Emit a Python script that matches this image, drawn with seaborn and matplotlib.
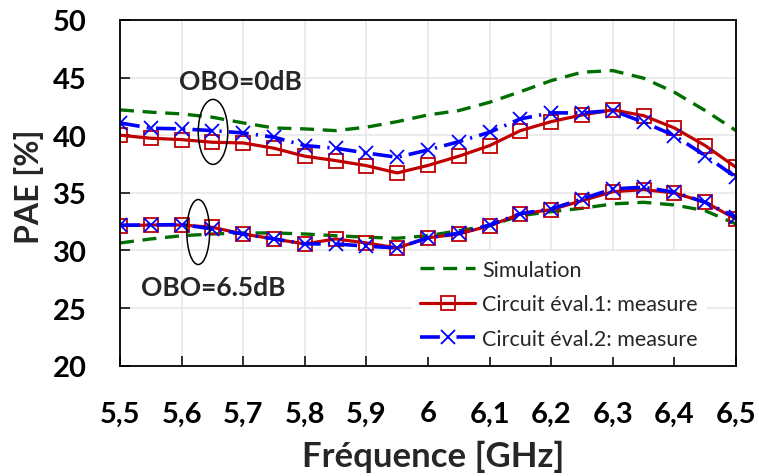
import matplotlib
matplotlib.use('Agg')
import matplotlib.pyplot as plt
import seaborn as sns
from matplotlib.patches import Ellipse
from matplotlib.lines import Line2D

# ---------------- data ----------------
freq = [5.50, 5.55, 5.60, 5.65, 5.70, 5.75, 5.80, 5.85, 5.90, 5.95, 6.00,
        6.05, 6.10, 6.15, 6.20, 6.25, 6.30, 6.35, 6.40, 6.45, 6.50]

# OBO = 0 dB
sim_obo0 = [42.2, 42.0, 41.85, 41.56, 41.07, 40.63, 40.55, 40.4, 40.7, 41.18, 41.76,
            42.14, 42.86, 43.78, 44.74, 45.47, 45.61, 44.95, 43.73, 42.14, 40.40]
meas1_obo0 = [40.0, 39.74, 39.62, 39.39, 39.33, 38.87, 38.18, 37.80, 37.36, 36.73, 37.38,
              38.18, 39.10, 40.40, 41.18, 41.76, 42.20, 41.70, 40.63, 39.10, 37.22]
meas2_obo0 = [41.07, 40.61, 40.55, 40.40, 40.20, 39.83, 39.10, 38.87, 38.46, 38.09, 38.72,
              39.44, 40.26, 41.42, 41.94, 41.94, 42.14, 41.13, 39.97, 38.23, 36.35]

# OBO = 6.5 dB
sim_obo65 = [30.65, 31.0, 31.28, 31.43, 31.52, 31.52, 31.43, 31.28, 31.15, 31.06, 31.28,
             31.72, 32.15, 33.02, 33.37, 33.66, 34.04, 34.18, 33.95, 33.45, 32.30]
meas1_obo65 = [32.15, 32.21, 32.21, 32.01, 31.43, 31.0, 30.57, 31.0, 30.65, 30.22, 31.1,
               31.43, 32.15, 33.17, 33.54, 34.32, 35.10, 35.28, 34.99, 34.18, 32.73]
meas2_obo65 = [32.2, 32.21, 32.25, 31.87, 31.43, 31.0, 30.57, 30.57, 30.37, 30.22, 31.1,
               31.5, 32.2, 33.2, 33.6, 34.47, 35.34, 35.49, 35.05, 34.18, 32.88]

x_ticks = [5.5, 5.6, 5.7, 5.8, 5.9, 6.0, 6.1, 6.2, 6.3, 6.4, 6.5]
x_tick_labels = ['5,5', '5,6', '5,7', '5,8', '5,9', '6', '6,1', '6,2', '6,3', '6,4', '6,5']
y_ticks = [20, 25, 30, 35, 40, 45, 50]
y_tick_labels = ['20', '25', '30', '35', '40', '45', '50']
legend_labels = ['Simulation', 'Circuit éval.1: measure', 'Circuit éval.2: measure']
annot_texts = ['OBO=0dB', 'OBO=6.5dB']

# ---------------- style ----------------
sns.set_style('ticks')
plt.rcParams['font.family'] = ['Lato', 'DejaVu Sans']

GREEN = '#006e00'
RED = '#c00000'
BLUE = '#0000ff'

fig, ax = plt.subplots(figsize=(7.59, 4.77), dpi=100)
fig.subplots_adjust(left=120 / 759, right=736 / 759, bottom=1 - 366.7 / 477, top=1 - 21 / 477)

sim_dash = (4.2, 2.6)
blue_dash = (5.5, 2.0, 0.6, 2.0)

for sim, m1, m2 in [(sim_obo0, meas1_obo0, meas2_obo0), (sim_obo65, meas1_obo65, meas2_obo65)]:
    sns.lineplot(x=freq, y=sim, ax=ax, color=GREEN, lw=2.4, legend=False)
    ax.lines[-1].set_dashes(sim_dash)
    sns.lineplot(x=freq, y=m1, ax=ax, color=RED, lw=2.3, legend=False,
                 marker='s', markersize=10, markerfacecolor='none',
                 markeredgecolor=RED, markeredgewidth=1.3)
    sns.lineplot(x=freq, y=m2, ax=ax, color=BLUE, lw=2.6, legend=False,
                 marker='x', markersize=10, markeredgecolor=BLUE, markeredgewidth=1.3)
    ax.lines[-1].set_dashes(blue_dash)

# ellipses + annotations
ax.add_patch(Ellipse((5.651, 40.29), 0.048, 5.64, fill=False, edgecolor='black', lw=1.1, zorder=5))
ax.add_patch(Ellipse((5.627, 31.6), 0.037, 5.64, fill=False, edgecolor='black', lw=1.1, zorder=5))
ax.text(5.695, 44.71, annot_texts[0], ha='center', va='center', fontsize=19, fontweight='bold')
ax.text(5.652, 26.83, annot_texts[1], ha='center', va='center', fontsize=19, fontweight='bold')

# axes
ax.set_xlim(5.5, 6.5)
ax.set_ylim(20, 50)
ax.set_xticks(x_ticks)
ax.set_xticklabels(x_tick_labels, fontsize=21, fontweight='bold')
ax.set_yticks(y_ticks)
ax.set_yticklabels(y_tick_labels, fontsize=21, fontweight='bold')
ax.grid(True, color='#e6e6e6', lw=1.1)
ax.set_axisbelow(True)
for s in ax.spines.values():
    s.set_visible(True)
    s.set_color('black')
    s.set_linewidth(1.3)
ax.xaxis.set_tick_params(which='major', direction='in', length=7, width=1.1,
                         colors='black', pad=25, bottom=True, top=False)
ax.yaxis.set_tick_params(which='major', direction='in', length=7, width=1.1,
                         colors='black', pad=24, left=True, right=False)

ax.set_ylabel('PAE [%]', fontsize=23, fontweight='bold')
ax.set_xlabel('Fréquence [GHz]', fontsize=25, fontweight='bold')
ax.yaxis.label.set_va('center')
ax.xaxis.label.set_va('center')
ax.yaxis.set_label_coords(-0.148, 0.52)
ax.xaxis.set_label_coords(0.508, -0.261)

handles = [
    Line2D([], [], color=GREEN, lw=2.4, dashes=sim_dash),
    Line2D([], [], color=RED, lw=2.3, marker='s', markersize=10, markerfacecolor='none',
           markeredgecolor=RED, markeredgewidth=1.3),
    Line2D([], [], color=BLUE, lw=2.6, dashes=blue_dash, marker='x', markersize=10,
           markeredgecolor=BLUE, markeredgewidth=1.3),
]
leg = ax.legend(handles, legend_labels, loc='center left', bbox_to_anchor=(0.456, 0.178),
                frameon=True, facecolor='white', edgecolor='none', framealpha=1,
                fontsize=15.5, handlelength=2.56, handletextpad=0.33, labelspacing=0.67,
                borderpad=0.4, numpoints=1)

fig.savefig('out.png', dpi=100)
